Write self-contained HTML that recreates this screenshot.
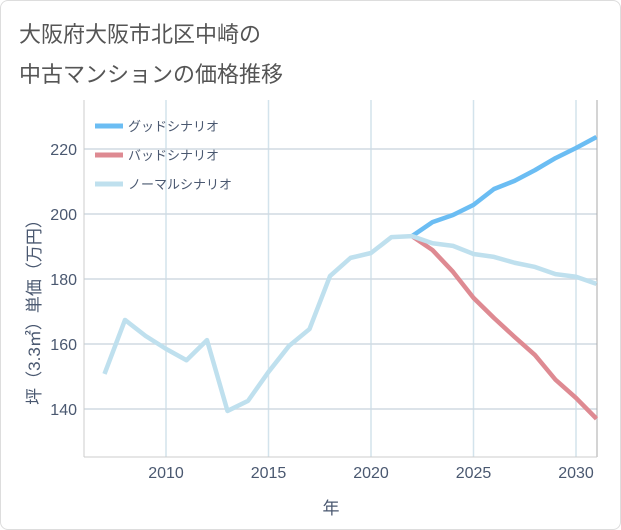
<!DOCTYPE html>
<html><head><meta charset="utf-8"><style>
body{margin:0;background:#fff;font-family:"Liberation Sans","Noto Sans CJK JP",sans-serif;}
#wrap{position:relative;width:619px;height:528px;border:1px solid #ddd;border-radius:8px;background:#fff;}
.title{position:absolute;left:18px;font-size:22px;color:#555;}
</style></head><body>
<div id="wrap">
<div class="title" style="top:16px">大阪府大阪市北区中崎の</div>
<div class="title" style="top:56px">中古マンションの価格推移</div>
<svg id="chart" width="621" height="530" style="position:absolute;left:-1px;top:-1px"></svg>
</div>
<script>
const years=[2007,2008,2009,2010,2011,2012,2013,2014,2015,2016,2017,2018,2019,2020,2021,2022,2023,2024,2025,2026,2027,2028,2029,2030,2031];
const normalVals=[150.8,167.4,162.5,158.5,155,161.2,139.4,142.5,151.4,159.4,164.6,180.9,186.5,188,192.9,193.2,191,190.2,187.7,186.8,185,183.7,181.5,180.7,178.5];
const goodYears=[2022,2023,2024,2025,2026,2027,2028,2029,2030,2031];
const goodVals=[193.2,197.5,199.7,202.8,207.7,210.2,213.5,217.2,220.3,223.7];
const badVals=[193.2,188.9,182.2,174.2,168,162.2,156.6,149,143.4,137];
const xTicks=[2010,2015,2020,2025,2030];
const yTicks=[140,160,180,200,220];
const legendLabels=["グッドシナリオ","バッドシナリオ","ノーマルシナリオ"];
const colors=["#6bbdf3","#de8a92","#bfe0ee"];
const L=84,R=597,T=100,B=457;
const x=v=>L+(v-2007)*(576-166)/20+ (166-L-(2010-2007)*20.5);
const y=v=>149+(220-v)*3.25;
const svg=document.getElementById('chart');const NS='http://www.w3.org/2000/svg';
const txtCol='#4a5870';
function mk(t,a){const e=document.createElementNS(NS,t);for(const k in a)e.setAttribute(k,a[k]);svg.appendChild(e);return e;}
xTicks.forEach(t=>{const l=mk('line',{x1:x(t),x2:x(t),y1:T,y2:B,stroke:'#d3e3ec','stroke-width':1.5});

const tx=mk('text',{x:x(t),y:478,'text-anchor':'middle','font-size':16,fill:txtCol});tx.textContent=t;
});
yTicks.forEach(t=>{const l=mk('line',{x1:L,x2:R,y1:y(t),y2:y(t),stroke:'#d0dae2','stroke-width':1.5});

const tx=mk('text',{x:77,y:y(t)+6,'text-anchor':'end','font-size':16,fill:txtCol});tx.textContent=t;
});
const ax=mk('line',{x1:L,x2:L,y1:T,y2:B,stroke:'#ccc'});
const ax2=mk('line',{x1:R,x2:R,y1:T,y2:B,stroke:'#aaa'});
const ax3=mk('line',{x1:L,x2:R,y1:B,y2:B,stroke:'#ccc'});
function path(xs,vs){return xs.map((v,i)=>(i?'L':'M')+x(v)+','+y(vs[i])).join('');}
const pg=mk('path',{d:path(goodYears,goodVals),fill:'none',stroke:colors[0],'stroke-width':4.5,'stroke-linejoin':'round'});

const pb=mk('path',{d:path(goodYears,badVals),fill:'none',stroke:colors[1],'stroke-width':4.5,'stroke-linejoin':'round'});

const pn=mk('path',{d:path(years,normalVals),fill:'none',stroke:colors[2],'stroke-width':4.5,'stroke-linejoin':'round'});

legendLabels.forEach((s,i)=>{const yy=126+i*29;
const l=mk('line',{x1:95,x2:123,y1:yy,y2:yy,stroke:colors[i],'stroke-width':5});

const t=mk('text',{x:128,y:yy+5,'font-size':13,fill:txtCol});t.textContent=s;
});
const xt=mk('text',{x:331,y:514,'text-anchor':'middle','font-size':17,fill:txtCol});xt.textContent='年';

const yt=mk('text',{x:0,y:0,'text-anchor':'middle','font-size':17,fill:txtCol,transform:'translate(40,308) rotate(-90)'});yt.textContent='坪（3.3㎡）単価（万円）';

</script>
</body></html>
